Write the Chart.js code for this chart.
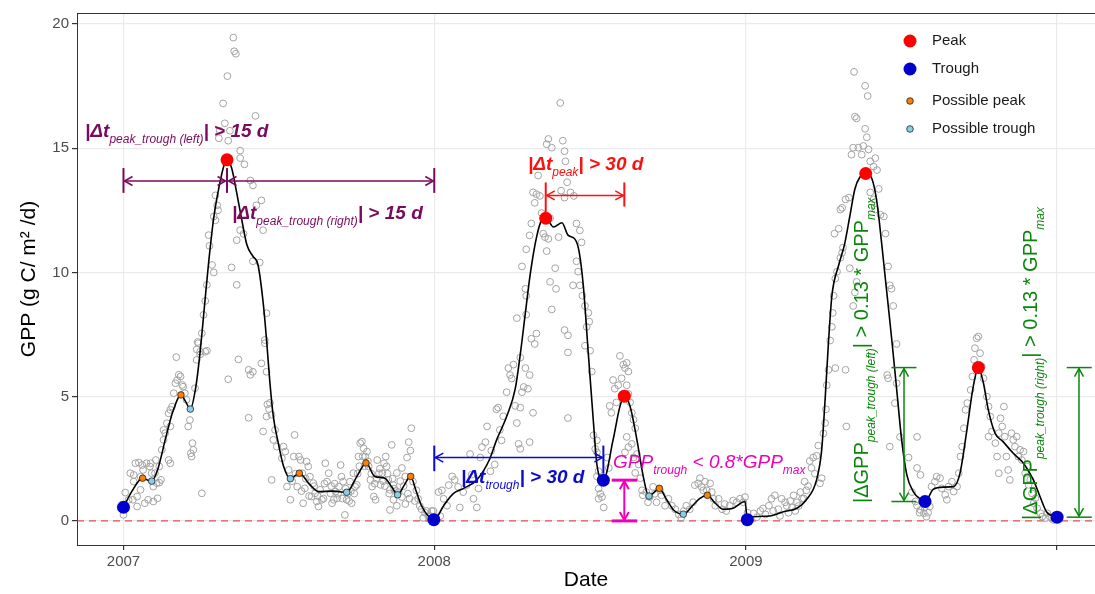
<!DOCTYPE html>
<html>
<head>
<meta charset="utf-8">
<script src="https://cdn.jsdelivr.net/npm/chart.js@4.4.1/dist/chart.umd.min.js"></script>
<style>
  body { margin: 0; background: #fff; }
  #wrap { width: 1095px; height: 594px; }
</style>
</head>
<body>
<div id="wrap"><canvas id="gppChart" width="1095" height="594"></canvas></div>
<script>
// x values are days since 2007-01-01
var yearTicks = [0, 365, 731, 1096];
var yearLabels = ['2007', '2008', '2009', ''];
var gppTicks = [0, 5, 10, 15, 20];

// daily GPP observations [day, gpp]
var obs2007 = [
  [0,0.24],[2,1.14],[6,0.85],[11,0.85],[16,0.98],[16,0.58],[20,1.25],[25,0.71],[29,0.85],[35,0.78],[40,0.91],[8,1.92],[12,1.85],[14,2.32],[18,2.35],[22,2.25],[23,2.05],[27,2.32],[31,2.19],[33,1.92],[37,1.92],[39,1.52],[42,1.54],[44,1.65],[42,2.19],[38,2.45],[32,2.32],[12,1.58],[20,1.78],[35,1.38],
  [45,2.86],[47,3.26],[49,3.53],[51,3.93],[53,4.33],[55,4.47],[57,4.6],[59,5.14],[61,5.54],[63,5.67],[65,5.88],[67,5.81],[69,5.47],[70,5.4],[72,5.14],[74,4.87],[62,6.59],[55,3.8],[53,2.45],[55,2.32],[47,3.66],
  [76,3.8],[78,4.06],[81,3.13],[80,2.59],[79,2.72],[82,2.86],[84,5.34],[86,6.48],[88,7.15],[90,6.81],[92,7.55],[94,8.29],[96,6.81],[92,1.11],
  [129,19.45],[130,18.9],[132,18.8],[122,17.9],[117,16.8],[155,16.3],[119,16.0],[113,15.7],[125,15.7],[112,15.4],[123,15.3],[137,14.9],[142,14.35],[137,14.6],[149,13.7],[152,13.5],[162,12.9],[156,12.7],[108,13.1],[110,12.7],[111,12.5],[106,12.25],[108,12.1],[137,11.7],[141,11.55],[164,11.7],[133,11.3],[100,11.5],[101,11.07],[104,10.3],[106,10.0],[127,10.2],[152,10.45],[160,10.4],[133,9.5],[98,9.5],[96,8.85],[87,7.2],[86,6.9],[90,6.7],[98,6.85],[135,6.5],[123,5.7],[172,4.75],[168,4.2],[147,4.15],[164,3.6],
  [147,6.08],[149,5.88],[152,6.0],[162,6.34],[166,7.15],[168,8.36],[166,7.28],[168,6.0],[169,4.69],[171,4.5],[174,4.27],[178,3.66],[176,3.26],[180,2.99],[186,2.52],[188,2.99],[190,2.79],[174,1.65],[192,1.38],[194,2.05],[196,0.85],[200,2.59],[201,3.46],[204,1.38],[206,2.59],[208,2.45],[210,1.92],[211,0.71],[213,1.31],[215,2.39],[217,2.19],[219,1.78],[221,0.98],[223,1.52],[225,1.11],[227,0.78],[229,0.58],[231,1.25],[233,0.85],[237,2.32],[239,1.58],[241,1.92],[243,1.11],[245,0.71],[247,0.85],[249,1.18],[251,0.91],[253,1.38],[255,2.25],[256,1.78],[258,1.58],[260,0.24],[262,0.85],[264,1.11],[266,1.58],[268,0.71],[270,1.92],[272,1.38],[274,1.45],[276,2.59],[278,3.13],[280,3.19],[282,2.92],[284,2.59],[286,2.79],[288,2.19],[290,1.65],[292,1.38],[294,0.98],[296,0.85],[298,2.45],[300,1.92],[302,1.45],[304,1.92],[306,2.32],[308,2.59],[309,2.19],[311,1.65],[313,1.25],[315,3.06],[317,0.85],[313,0.44],
  [198,1.6],[202,1.9],[209,1.2],[214,1.7],[218,1.0],[224,1.4],[228,1.0],[235,0.9],[236,1.5],[244,1.4],[248,1.5],[252,1.1],[257,0.9],[261,1.3],[265,0.8],[267,1.2],[271,1.1],[275,1.9],[277,2.2],[281,2.6],[283,2.2],[287,2.4],[291,1.9],[295,1.5],[297,1.7],[301,2.1],[305,1.6],[307,1.4],[310,1.9],[312,1.1],[316,1.7],[318,1.3],[320,1.2],
  [338,3.73],[335,3.17],[337,2.83],[333,2.55],[327,2.13],[321,1.93],[331,1.79],[340,1.58],[344,1.23],[346,0.89],[350,0.47],[354,0.33],[352,0.12],[358,0.19],[362,0.4],[317,1.44],[323,1.16],[327,0.96],[331,0.68],[321,0.61],[325,1.6],[329,1.4],[334,1.1],[336,0.9],[342,0.8],[348,0.6],[356,0.4],[360,0.2]
];
var obs2008 = [
  [364,0.4],[372,0.19],[370,1.16],[374,1.23],[376,0.89],[380,0.61],[382,1.44],[386,1.79],[389,1.65],[393,1.37],[395,0.54],[399,1.16],[403,1.44],[407,2.69],[409,1.86],[411,0.89],[415,0.54],[417,1.3],[419,2.55],[421,2.97],[425,3.17],[427,3.8],[431,2.0],[432,2.83],[436,2.27],[438,4.49],[440,4.56],[442,3.66],[444,3.24],[446,4.21],[450,5.18],[452,6.15],[454,5.87],[456,5.73],[458,6.29],[460,4.63],[462,3.94],[464,3.1],[466,2.9],[466,6.57],[466,4.56],[468,5.18],[470,5.39],[472,6.15],[475,5.32],[477,5.87],[477,3.17],
  [462,8.16],[468,10.24],[472,9.34],[473,9.06],[473,8.3],[479,7.33],[483,7.12],[485,7.54],[481,4.35],[473,10.93],[477,11.49],[479,11.97],[481,13.22],[485,13.15],[489,13.08],[483,12.8],[487,13.9],[491,12.39],[493,11.56],[495,11.42],[497,10.86],[499,11.35],[501,12.18],[497,15.16],[499,15.37],[503,15.02],[501,9.62],[503,8.51],[507,10.17],[508,9.34],[511,11.42],[513,16.82],[514,13.29],[516,15.3],[518,14.88],[519,14.47],[521,13.63],[518,13.01],[525,13.22],[529,13.08],[532,11.97],[536,11.69],[538,11.21],[532,10.45],[534,10.03],[528,9.48],[536,9.48],[539,9.06],[542,8.65],[546,8.37],[544,7.81],[547,8.02],[518,7.68],[522,7.47],[522,6.78],[542,7.05],[548,6.85],[550,6.01],[522,4.14],[552,3.45],[554,2.9],[556,2.76],[558,2.0],
  [556,1.79],[558,1.3],[560,1.09],[562,0.96],[564,0.54],[558,0.89],[556,3.24],[568,2.55],[570,2.13],[571,4.63],[573,4.35],[575,5.67],[577,5.32],[579,4.77],[581,5.46],[583,6.64],[585,5.74],[587,6.29],[589,6.15],[591,6.36],[593,6.01],[591,5.46],[593,5.11],[595,4.77],[597,4.35],[599,4.07],[601,3.73],[591,3.38],[593,2.97],[589,2.76],[597,3.1],[599,2.55],[603,2.69],[605,2.27],[601,1.93],[607,1.72],[609,1.23],[610,1.03],[614,1.16],[616,0.75],[618,0.96],[622,1.37],[624,1.09],[626,0.75],[630,1.23],[632,1.03],[636,0.61],[640,0.89],[644,0.61],[648,0.47],[652,0.26],[655,0.12],[658,0.4],[661,0.61],[665,0.47],[669,0.75],[671,1.44],[675,1.51],[677,1.72],[679,1.37],[681,1.23],[683,1.58],[685,1.23],[689,1.51],[691,1.16],[693,0.89],[695,0.61],[699,0.89],[703,0.47],[706,0.68],[708,0.4],[712,0.61],[716,0.82],[720,0.75],[724,0.89],[728,0.75],[730,0.96]
];
var obs2009 = [
  [733,0.33],[740,0.3],[744,0.15],[748,0.4],[751,0.5],[754,0.26],[758,0.61],[761,0.89],[763,0.4],[765,1.03],[769,0.47],[771,0.2],[773,0.89],[777,0.75],[779,0.6],[781,0.33],[783,0.8],[785,0.54],[787,1.03],[789,0.4],[791,0.75],[793,0.6],[795,1.16],[797,0.89],[799,0.9],[800,1.58],[802,1.23],[804,1.4],[806,2.41],[808,2.13],[810,2.55],[812,1.9],[814,2.62],[816,3.03],[818,1.51],[820,1.72],[822,3.52],[824,3.94],[825,4.49],[826,5.46],[828,6.08],[830,7.26],[832,7.81],[833,8.37],[834,9.06],[836,9.75],[838,10.03],[842,10.59],[844,10.79],[845,11.0],[835,11.56],[840,11.76],[842,12.53],[844,12.6],[848,12.94],[852,13.01],[836,6.15],[848,6.08],[849,3.8],[853,10.17],[857,8.65],[859,9.2],[861,9.62],
  [855,14.74],[857,15.02],[859,16.27],[861,16.2],[863,15.02],[867,14.74],[869,15.09],[871,15.78],[873,15.44],[875,14.95],[877,14.47],[881,14.26],[883,14.6],[885,14.12],[858,18.07],[871,17.51],[874,17.1],[877,13.22],[881,12.94],[883,12.53],[887,13.36],[889,12.32],[893,12.25],[895,11.56],[898,10.24],[900,9.48],[902,9.34],[904,8.65],[908,7.12],[897,5.87],[912,3.38],[932,2.13],[932,3.38],[922,2.55],[926,1.16],[932,0.61],[935,0.33],[941,0.54],[945,0.33],
  [898,5.74],[906,4.74],[908,5.54],[900,2.99],[936,1.85],[930,0.78],[936,0.44],[940,0.31],[943,0.17],[947,0.58],[949,1.38],[953,1.58],[955,1.78],[959,1.72],[961,1.31],[965,1.05],[967,0.85],[969,1.38],[973,1.58],[975,1.18],[979,1.38],[981,1.92],[983,2.59],[985,2.99],[987,3.73],[989,4.47],[991,4.74],[995,5.27],[997,5.81],[999,6.48],[1000,6.95],[1002,7.35],[1004,7.42],[1006,6.75],[1008,6.21],[1010,5.74],[1014,5.0],[1016,4.6],[1018,4.2],[1016,3.39],[1020,3.6],[1024,3.13],[1026,2.59],[1028,1.92],[1028,3.53],[1030,4.13],[1032,3.8],[1034,4.6],[1035,3.39],[1037,2.59],[1039,2.05],[1041,1.65],[1043,3.53],[1045,3.26],[1047,2.99],[1049,3.39],[1051,2.59],[1053,2.86],[1055,2.45],[1057,2.79],[1059,1.92],[1061,2.19],[1063,1.45],[1065,1.65],[1067,1.11],[1069,0.71],[1071,0.91],[1073,0.51],[1077,0.31],[1079,0.17],[1083,0.11],[1085,0.31],[1088,0.17],[1092,0.04]
];

// smoothed GPP curve
var smoothDays = [0,10,22.5,28,33,40,50,58,67.5,73,78.5,85,90,95,100,106,112,118,121.6,127,133,139,145,152,158,164,168,172,176,182,188,196,206.5,219,229,246,262,274,285,295,307,315,322,330,337,344,350,358,365,
  376,387,399,415,430,438,450,460,466,472,478,485,491,496,505,515,522,530,535,540,546,552,556,563.6,575,583,588.2,595,603,610.5,617,623,629,638,646,657.5,669,677,685.7,695,704.5,716,730,
  732.7,736,759,775,791,802,814,820,824,828,832,840,847,853,859,865,872,879,885,890.5,895.6,902,908,914,920,927.7,935.5,941.4,951,963,975,982.5,990,998,1004,1010,1015.7,1023.6,1033,1045,1057,1068.6,1076.4,1084,1096.5];
var smoothGpp = [0.55,1.2,1.72,1.65,1.6,2.05,3.4,4.4,5.07,4.8,4.5,5.4,6.8,8.6,10.4,12.2,13.4,14.3,14.53,14.2,13.2,12.1,11.1,10.65,10.3,8.8,7.3,5.55,4.2,3.1,2.2,1.7,1.92,1.45,1.18,1.2,1.15,1.78,2.33,1.79,1.72,1.37,1.05,1.45,1.79,1.17,0.61,0.2,0.05,
  0.61,1.09,1.3,1.65,2.48,3.24,4.2,5.3,6.7,8.37,10.0,11.4,12.1,12.2,11.83,12.0,11.5,11.35,10.86,9.48,6.7,3.94,2.27,1.64,3.26,4.6,5.02,4.6,3.26,1.78,1.0,1.14,1.31,0.85,0.44,0.27,0.64,0.91,1.03,0.71,0.47,0.51,0.78,
  0.05,0.15,0.2,0.37,0.51,0.85,1.65,2.86,4.87,7.2,9.06,10.3,11.15,12.25,13.36,13.84,13.98,13.77,12.8,11.15,9.48,7.4,5.32,3.24,1.85,1.17,0.89,0.78,1.27,1.36,1.38,1.92,3.53,5.4,6.17,5.54,4.47,3.53,3.19,2.72,2.32,1.65,0.98,0.37,0.15];

var peakDays = [121.6, 495.9, 588.2, 871.7, 1004];
var peakGpp = [14.53, 12.18, 5.02, 13.98, 6.17];
var troughDays = [0, 364.5, 563.6, 732.7, 941.4, 1096.5];
var troughGpp = [0.55, 0.05, 1.64, 0.05, 0.78, 0.15];
var possPeakDays = [22.5, 67.5, 206.5, 284.8, 337.3, 629.3, 685.7];
var possPeakGpp = [1.72, 5.07, 1.92, 2.33, 1.79, 1.31, 1.03];
var possTroughDays = [33.1, 78.5, 196, 262.1, 322, 617.2, 657.5];
var possTroughGpp = [1.6, 4.5, 1.7, 1.15, 1.05, 1.0, 0.27];

var legendNames = ['Peak', 'Trough', 'Possible peak', 'Possible trough'];

var FONT = '"Liberation Sans", Arial, sans-serif';
var cPeak = '#ff0000', cTrough = '#0000cd', cPossPeak = '#ff7f00', cPossTrough = '#87ceeb';
var cPurple = '#7a0a5e', cRed = '#ff1010', cBlue = '#0a0ad0', cMagenta = '#ee00bb', cGreen = '#0a870a';

function pts(xs, ys) { return xs.map(function (x, i) { return {x: x, y: ys[i]}; }); }
function pairs(list) { return list.map(function (p) { return {x: p[0], y: p[1]}; }); }

function X(chart, d) { return chart.scales.x.getPixelForValue(d); }
function Y(chart, v) { return chart.scales.y.getPixelForValue(v); }

function seg(ctx, x1, y1, x2, y2) {
  ctx.beginPath(); ctx.moveTo(x1, y1); ctx.lineTo(x2, y2); ctx.stroke();
}
// open arrow head with its tip at (x, y) pointing along (dx, dy)
function head(ctx, x, y, dx, dy) {
  var L = 8, W = 4.5, bx = x - dx * L, by = y - dy * L;
  ctx.beginPath();
  ctx.moveTo(bx - dy * W, by + dx * W);
  ctx.lineTo(x, y);
  ctx.lineTo(bx + dy * W, by - dx * W);
  ctx.stroke();
}
function arrow2(ctx, x1, y1, x2, y2) {
  var len = Math.hypot(x2 - x1, y2 - y1), ux = (x2 - x1) / len, uy = (y2 - y1) / len;
  seg(ctx, x1, y1, x2, y2);
  head(ctx, x2, y2, ux, uy);
  head(ctx, x1, y1, -ux, -uy);
}
// text made of pieces; each piece is [text, font, baseline shift]
function richText(ctx, pieces, x, y, color, rotate) {
  ctx.save();
  ctx.translate(x, y);
  if (rotate) ctx.rotate(-Math.PI / 2);
  ctx.fillStyle = color;
  ctx.textAlign = 'left';
  ctx.textBaseline = 'alphabetic';
  var cx = 0;
  pieces.forEach(function (p) {
    ctx.font = p[1];
    ctx.fillText(p[0], cx, p[2] || 0);
    cx += ctx.measureText(p[0]).width;
  });
  ctx.restore();
}

var BIG = 'italic bold 19px ' + FONT, SUB = 'italic 12px ' + FONT;

var annotate = {
  id: 'annotate',
  beforeDatasetsDraw: function (chart) {
    var ctx = chart.ctx, a = chart.chartArea, y0 = Y(chart, 0);
    ctx.save();
    ctx.strokeStyle = '#e3262e';
    ctx.lineWidth = 1;
    ctx.setLineDash([7, 5]);
    seg(ctx, a.left, y0, a.right, y0);
    ctx.restore();
  },
  afterDatasetsDraw: function (chart) {
    var ctx = chart.ctx, a = chart.chartArea;
    ctx.save();

    // peak-to-trough spacing around the first peak
    ctx.strokeStyle = cPurple;
    var ay = Y(chart, 13.68), bt = Y(chart, 14.2), bb = Y(chart, 13.2);
    ctx.lineWidth = 1.5;
    arrow2(ctx, X(chart, 0) + 1, ay, X(chart, peakDays[0]) - 1.5, ay);
    arrow2(ctx, X(chart, peakDays[0]) + 1.5, ay, X(chart, 365) - 1, ay);
    ctx.lineWidth = 2;
    [0, peakDays[0], 365].forEach(function (d) { seg(ctx, X(chart, d), bt, X(chart, d), bb); });
    richText(ctx, [['|\u0394t', BIG], ['peak_trough (left)', SUB, 6], ['| > 15 d', BIG]], X(chart, -45.2), Y(chart, 15.45), cPurple);
    richText(ctx, [['|\u0394t', BIG], ['peak_trough (right)', SUB, 6], ['| > 15 d', BIG]], X(chart, 127.4), Y(chart, 12.15), cPurple);

    // spacing between neighbouring peaks
    ctx.strokeStyle = cRed;
    ctx.lineWidth = 1.5;
    arrow2(ctx, X(chart, peakDays[1]) + 1, Y(chart, 13.1), X(chart, peakDays[2]) - 1, Y(chart, 13.1));
    ctx.lineWidth = 2;
    seg(ctx, X(chart, peakDays[1]), Y(chart, 13.62), X(chart, peakDays[1]), Y(chart, 12.38));
    seg(ctx, X(chart, peakDays[2]), Y(chart, 13.62), X(chart, peakDays[2]), Y(chart, 12.65));
    richText(ctx, [['|\u0394t', BIG], ['peak', SUB, 6], ['| > 30 d', BIG]], X(chart, 475), Y(chart, 14.12), cRed);

    // spacing between neighbouring troughs
    ctx.strokeStyle = cBlue;
    ctx.lineWidth = 1.5;
    arrow2(ctx, X(chart, 365) + 1, Y(chart, 2.55), X(chart, troughDays[2]) - 1, Y(chart, 2.55));
    ctx.lineWidth = 2;
    seg(ctx, X(chart, 365), Y(chart, 3.03), X(chart, 365), Y(chart, 2.0));
    seg(ctx, X(chart, troughDays[2]), Y(chart, 3.03), X(chart, troughDays[2]), Y(chart, 1.9));
    richText(ctx, [['|\u0394t', BIG], ['trough', SUB, 6], ['| > 30 d', BIG]], X(chart, 396.4), Y(chart, 1.53), cBlue);

    // trough height check
    ctx.strokeStyle = cMagenta;
    var mx = X(chart, peakDays[2]), m1 = X(chart, 573.4), m2 = X(chart, 603.4);
    ctx.lineWidth = 2;
    arrow2(ctx, mx, Y(chart, troughGpp[2]) + 1, mx, Y(chart, 0) - 1);
    ctx.lineWidth = 3;
    seg(ctx, m1, Y(chart, troughGpp[2]), m2, Y(chart, troughGpp[2]));
    seg(ctx, m1, Y(chart, 0), m2, Y(chart, 0));
    var MB = 'italic 19px ' + FONT;
    richText(ctx, [['GPP', MB], ['trough', SUB, 6], [' < 0.8*GPP', MB], ['max', SUB, 6]], X(chart, 575), Y(chart, 2.13), cMagenta);

    // amplitude checks on the last peak
    ctx.strokeStyle = cGreen;
    [[916.7, 901.9, 931.3, troughGpp[4]], [1122.2, 1107.8, 1137.2, troughGpp[5]]].forEach(function (g) {
      var gx = X(chart, g[0]), top = Y(chart, peakGpp[4]), bot = Y(chart, g[3]);
      ctx.lineWidth = 1.5;
      arrow2(ctx, gx, top + 1, gx, bot - 1);
      seg(ctx, X(chart, g[1]), top, X(chart, g[2]), top);
      seg(ctx, X(chart, g[1]), bot, X(chart, g[2]), bot);
    });
    var GB = '20px ' + FONT, GS = 'italic 12px ' + FONT;
    richText(ctx, [['|\u0394GPP', GB], ['peak_trough (left)', GS, 7], ['| > 0.13 * GPP', GB], ['max', GS, 7]], X(chart, 874.5), Y(chart, 0.72), cGreen, true);
    richText(ctx, [['|\u0394GPP', GB], ['peak_trough (right)', GS, 7], ['| > 0.13 * GPP', GB], ['max', GS, 7]], X(chart, 1073), Y(chart, 0.04), cGreen, true);

    // legend
    var sets = chart.data.datasets;
    var rows = [28, 56, 88, 116];
    var lx = a.right - 185;
    ctx.textAlign = 'left';
    ctx.textBaseline = 'middle';
    ctx.font = '15px ' + FONT;
    for (var i = 0; i < 4; i++) {
      var ds = sets[i], ly = a.top + rows[i];
      ctx.beginPath();
      ctx.arc(lx, ly, ds.pointRadius, 0, Math.PI * 2);
      ctx.fillStyle = ds.backgroundColor;
      ctx.fill();
      if (ds.pointBorderWidth) {
        ctx.lineWidth = ds.pointBorderWidth;
        ctx.strokeStyle = ds.borderColor;
        ctx.stroke();
      }
      ctx.fillStyle = '#1a1a1a';
      ctx.fillText(legendNames[i], lx + 22, ly);
    }

    ctx.restore();
  },
  afterDraw: function (chart) {
    var ctx = chart.ctx, a = chart.chartArea;
    ctx.save();
    ctx.strokeStyle = '#333';
    ctx.lineWidth = 1;
    seg(ctx, a.left, a.top + 0.5, a.right, a.top + 0.5);
    ctx.restore();
  }
};

var ctx = document.getElementById('gppChart').getContext('2d');
var gppChart = new Chart(ctx, {
  type: 'scatter',
  data: {
    datasets: [
      { label: 'Peak', data: pts(peakDays, peakGpp), pointRadius: 6.5, pointBorderWidth: 0,
        backgroundColor: cPeak, borderColor: cPeak, order: 0 },
      { label: 'Trough', data: pts(troughDays, troughGpp), pointRadius: 6.5, pointBorderWidth: 0,
        backgroundColor: cTrough, borderColor: cTrough, order: 1 },
      { label: 'Possible peak', data: pts(possPeakDays, possPeakGpp), pointRadius: 3.3, pointBorderWidth: 0.8,
        backgroundColor: cPossPeak, borderColor: '#222', order: 2 },
      { label: 'Possible trough', data: pts(possTroughDays, possTroughGpp), pointRadius: 3.3, pointBorderWidth: 0.8,
        backgroundColor: cPossTrough, borderColor: '#222', order: 3 },
      { type: 'line', label: 'Smoothed', data: pts(smoothDays, smoothGpp), borderColor: '#000', borderWidth: 1.6,
        pointRadius: 0, fill: false, cubicInterpolationMode: 'monotone', order: 4 },
      { label: 'Observed', data: pairs(obs2007.concat(obs2008, obs2009)), pointRadius: 3.4, pointBorderWidth: 1,
        backgroundColor: 'rgba(0,0,0,0)', borderColor: '#a3a3a3', order: 5 }
    ]
  },
  options: {
    responsive: false,
    animation: false,
    events: [],
    layout: { autoPadding: false, padding: { top: 13, right: 0, bottom: 0, left: 0 } },
    plugins: { legend: { display: false }, tooltip: { enabled: false } },
    scales: {
      x: {
        type: 'linear', min: -54.6, max: 1141,
        afterBuildTicks: function (s) { s.ticks = yearTicks.map(function (v) { return {value: v}; }); },
        afterFit: function (s) { s.height = 49; s.paddingLeft = 0; s.paddingRight = 0; },
        ticks: {
          callback: function (v) { return yearLabels[yearTicks.indexOf(v)]; },
          color: '#4d4d4d', font: { size: 15, family: FONT }, padding: 3, maxRotation: 0, autoSkip: false
        },
        grid: { color: '#ebebeb', lineWidth: 1.2, tickColor: '#333', tickLength: 5 },
        border: { color: '#333', width: 1 },
        title: { display: true, text: 'Date', color: '#000', font: { size: 21, family: FONT }, padding: { top: 0, bottom: 1 } }
      },
      y: {
        type: 'linear', min: -0.97, max: 20.44,
        afterBuildTicks: function (s) { s.ticks = gppTicks.map(function (v) { return {value: v}; }); },
        afterFit: function (s) { s.width = 77; s.paddingTop = 0; s.paddingBottom = 0; },
        ticks: { color: '#4d4d4d', font: { size: 15, family: FONT }, padding: 3 },
        grid: { color: '#ebebeb', lineWidth: 1.2, tickColor: '#333', tickLength: 5 },
        border: { color: '#333', width: 1 },
        title: { display: true, text: 'GPP (g C/ m\u00b2 /d)', color: '#000', font: { size: 21, family: FONT }, padding: { top: 17, bottom: 0 } }
      }
    }
  },
  plugins: [annotate]
});
</script>
</body>
</html>
